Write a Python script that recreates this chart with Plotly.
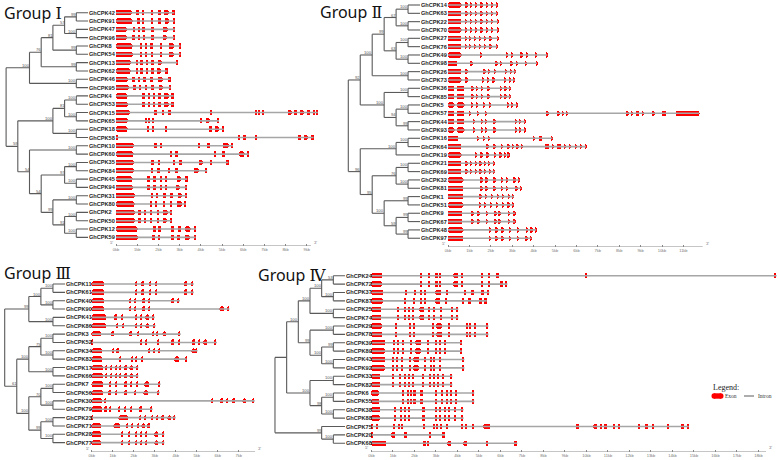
import plotly.graph_objects as go

# ---------------- DATA ----------------
G1_GENES = ["GhCPK42","GhCPK91","GhCPK47","GhCPK96","GhCPK8","GhCPK54","GhCPK13","GhCPK62","GhCPK46","GhCPK95",
            "GhCPK4","GhCPK53","GhCPK15","GhCPK65","GhCPK18","GhCPK58","GhCPK10","GhCPK60","GhCPK35","GhCPK84",
            "GhCPK45","GhCPK94","GhCPK31","GhCPK80","GhCPK2","GhCPK50","GhCPK12","GhCPK59"]
G1_TREE = ("((((((GhCPK42,GhCPK91)99,(GhCPK47,GhCPK96)100)57,(GhCPK8,GhCPK54)99)81,(GhCPK13,GhCPK62)99)76,"
           "(GhCPK46,GhCPK95)100)100,((((GhCPK4,GhCPK53)100,(GhCPK15,GhCPK65)100)81,(GhCPK18,GhCPK58)100)100,"
           "((GhCPK10,GhCPK60)100,(((GhCPK35,GhCPK84)100,(GhCPK45,GhCPK94)100)97,((GhCPK31,GhCPK80)100,"
           "((GhCPK2,GhCPK50)100,(GhCPK12,GhCPK59)100)91)99)54)54)59)")
G1_EXONS = [
 [(0,0.74),(0.95,1.07),(1.2,1.32),(1.62,1.72),(1.97,2.1),(2.25,2.48),(2.65,2.75)],
 [(0,0.78),(0.96,1.1),(1.2,1.32),(1.62,1.72),(1.98,2.1),(2.28,2.5),(2.68,2.76)],
 [(0,0.5),(0.78,0.9),(1.04,1.14),(1.23,1.35),(1.65,1.77),(2.2,2.42),(2.7,2.78)],
 [(0,0.5),(0.76,0.88),(1.02,1.12),(1.24,1.34),(1.66,1.76),(2.18,2.38),(2.68,2.76)],
 [(0,0.77),(1.1,1.22),(1.34,1.46),(1.6,1.72),(2.04,2.14),(2.48,2.72),(2.94,3.04)],
 [(0,0.77),(1.1,1.22),(1.34,1.46),(1.62,1.72),(2.04,2.14),(2.48,2.72),(2.94,3.04)],
 [(0,0.7),(0.92,1.04),(1.14,1.26),(1.38,1.5),(1.66,1.78),(1.95,2.15),(2.82,2.9)],
 [(0,0.7),(0.92,1.04),(1.14,1.26),(1.38,1.5),(1.66,1.78),(1.94,2.12),(2.3,2.42)],
 [(0,0.57),(0.76,0.88),(1.02,1.12),(1.28,1.38),(1.6,1.72),(1.98,2.18),(2.48,2.56)],
 [(0,0.6),(0.8,0.92),(1.06,1.16),(1.33,1.43),(1.65,1.77),(2.0,2.2),(2.5,2.58)],
 [(0,0.55),(1.22,1.36),(1.48,1.58),(1.74,1.84),(1.98,2.1),(2.26,2.48),(2.6,2.72)],
 [(0,0.55),(1.22,1.36),(1.48,1.6),(1.74,1.84),(1.98,2.1),(2.26,2.48),(2.6,2.72)],
 [(0,0.65),(1.78,1.92),(2.14,2.26),(2.46,2.56),(4.4,4.52),(6.52,6.64),(6.72,6.8),(6.9,6.98),(8.1,8.3),
  (8.4,8.52),(8.65,8.85),(8.98,9.14),(9.26,9.38),(9.45,9.52)],
 [(0,0.55),(1.34,1.46),(1.5,1.6),(1.68,1.78),(3.96,4.06),(4.22,4.42),(4.76,4.86)],
 [(0,0.55),(1.44,1.54),(1.68,1.78),(2.28,2.38),(4.38,4.52),(4.64,4.86),(4.98,5.08)],
 [(0,0.04),(5.72,5.84),(5.98,6.1),(6.56,6.64),(8.55,8.72),(8.85,9.05),(9.2,9.32)],
 [(0,0.85),(1.78,1.92),(2.04,2.16),(3.85,3.95),(4.26,4.4),(5.05,5.3),(5.42,5.52)],
 [(0,0.85),(2.52,2.64),(2.78,2.9),(4.6,4.7),(5.0,5.14),(5.8,6.05),(6.16,6.26)],
 [(0,0.85),(1.65,1.78),(1.96,2.08),(2.68,2.78),(2.98,3.1),(3.9,4.1),(4.46,4.52),(5.22,5.3)],
 [(0,0.82),(1.62,1.74),(1.92,2.04),(2.45,2.55),(2.78,2.9),(3.65,3.9),(4.22,4.3)],
 [(0,0.78),(1.46,1.58),(1.75,1.87),(2.05,2.15),(2.28,2.38),(2.84,3.04),(3.28,3.36)],
 [(0,0.78),(1.46,1.58),(1.75,1.87),(2.04,2.14),(2.28,2.38),(2.82,3.02),(3.26,3.34)],
 [(0,0.9),(1.62,1.74),(1.88,1.98),(2.22,2.34),(2.55,2.67),(2.92,3.12),(3.26,3.34)],
 [(0,0.9),(1.58,1.7),(1.84,1.94),(2.2,2.3),(2.52,2.64),(2.88,3.08),(3.22,3.3)],
 [(0,0.88),(1.04,1.16),(1.3,1.4),(1.6,1.7),(1.9,2.02),(2.2,2.42),(2.56,2.64)],
 [(0,0.88),(1.04,1.16),(1.3,1.4),(1.6,1.7),(1.9,2.02),(2.18,2.4),(2.54,2.62)],
 [(0,1.0),(1.72,1.86),(1.98,2.1),(2.6,2.72),(2.9,3.04),(3.25,3.5),(3.68,3.78)],
 [(0,1.0),(1.7,1.82),(1.96,2.08),(2.58,2.7),(2.86,3.0),(3.22,3.46),(3.66,3.76)],
]

G2_GENES = ["GhCPK14","GhCPK63","GhCPK22","GhCPK70","GhCPK27","GhCPK76","GhCPK49","GhCPK98","GhCPK26","GhCPK73",
            "GhCPK36","GhCPK85","GhCPK5","GhCPK57","GhCPK44","GhCPK93","GhCPK16","GhCPK64","GhCPK19","GhCPK21",
            "GhCPK69","GhCPK32","GhCPK81","GhCPK1","GhCPK51","GhCPK9","GhCPK67","GhCPK48","GhCPK97"]
G2_TREE = ("((((((GhCPK14,GhCPK63)100,(GhCPK22,GhCPK70)100)67,((GhCPK27,GhCPK76)100,(GhCPK49,GhCPK98)100)63)99,"
           "(GhCPK26,GhCPK73)100)100,((GhCPK36,GhCPK85)100,((GhCPK5,GhCPK57)100,(GhCPK44,GhCPK93)99)94)100)92,"
           "(((GhCPK16,GhCPK64)100,GhCPK19)100,(((GhCPK21,GhCPK69)100,(GhCPK32,GhCPK81)100)76,"
           "((GhCPK1,GhCPK51)99,((GhCPK9,GhCPK67)99,(GhCPK48,GhCPK97)99)59)100)95)96)")
G2_EXONS = [
 [(0,0.65),(0.78,0.9),(1.02,1.12),(1.26,1.36),(1.5,1.6),(1.74,1.84),(1.98,2.1),(2.24,2.3)],
 [(0,0.65),(0.78,0.9),(1.02,1.12),(1.26,1.36),(1.5,1.6),(1.74,1.84),(1.98,2.1),(2.24,2.3)],
 [(0,0.62),(0.76,0.86),(1.0,1.1),(1.24,1.34),(1.5,1.6),(1.74,1.84),(2.0,2.1),(2.28,2.34)],
 [(0,0.62),(0.76,0.86),(1.0,1.1),(1.24,1.34),(1.5,1.6),(1.74,1.84),(2.0,2.1),(2.28,2.34)],
 [(0,0.62),(0.76,0.86),(0.98,1.08),(1.2,1.3),(1.44,1.54),(1.7,1.78),(1.94,2.02),(2.28,2.34)],
 [(0,0.62),(0.76,0.86),(0.98,1.08),(1.2,1.3),(1.44,1.54),(1.7,1.78),(1.94,2.02),(2.24,2.3)],
 [(0,0.65),(1.48,1.58),(2.68,2.8),(2.92,3.02),(3.34,3.5),(3.62,3.72),(4.04,4.14),(4.58,4.64)],
 [(0,0.45),(1.0,1.15),(2.2,2.32),(2.42,2.52),(2.9,3.02),(3.16,3.26),(3.58,3.68),(4.1,4.16)],
 [(0,0.65),(0.8,0.92),(1.64,1.74),(1.86,1.96),(2.12,2.24),(2.66,2.74),(2.9,2.98),(3.1,3.16)],
 [(0,0.65),(0.8,0.92),(1.58,1.68),(1.8,1.9),(2.06,2.18),(2.6,2.7),(2.84,2.92),(3.06,3.12)],
 [(0,0.33),(0.42,0.76),(1.08,1.18),(1.3,1.4),(1.54,1.64),(1.82,1.94),(2.42,2.5),(2.64,2.72),(2.86,2.92)],
 [(0,0.33),(0.42,0.76),(1.08,1.18),(1.3,1.4),(1.54,1.64),(1.82,1.94),(2.42,2.5),(2.64,2.72),(2.86,2.92)],
 [(0,0.33),(0.42,0.76),(1.06,1.16),(1.3,1.4),(1.62,1.72),(1.88,1.98),(2.72,2.82),(2.96,3.04),(3.18,3.24)],
 [(0,0.33),(0.42,0.76),(0.98,1.08),(1.32,1.42),(1.7,1.8),(4.55,4.7),(5.1,5.2),(5.32,5.42),(5.52,5.6),
  (8.28,8.45),(8.54,8.62),(8.75,8.95),(9.06,9.12),(9.56,9.64),(10.0,10.2),(10.66,11.74)],
 [(0,0.3),(0.4,0.78),(1.16,1.26),(1.52,1.62),(1.72,1.82),(2.1,2.24),(3.1,3.2),(3.32,3.4),(3.54,3.6)],
 [(0,0.3),(0.4,0.78),(1.16,1.26),(1.52,1.62),(1.72,1.82),(2.1,2.24),(3.1,3.2),(3.32,3.4),(3.54,3.6)],
 [(0,0.52),(1.33,1.45),(1.6,1.7),(1.86,1.96),(3.94,4.06),(4.22,4.44),(4.8,4.88)],
 [(0,0.65),(1.78,1.9),(2.1,2.22),(2.46,2.56),(2.76,2.86),(2.98,3.06),(3.2,3.28),(3.4,3.48),(4.5,4.75),
  (4.82,4.94),(5.08,5.3),(5.4,5.52),(5.62,5.72),(5.9,6.02),(6.15,6.25),(6.4,6.45)],
 [(0,0.65),(1.24,1.36),(1.48,1.6),(1.78,1.9),(2.12,2.22),(2.38,2.5),(2.58,2.68),(2.78,2.86)],
 [(0,0.65),(0.8,0.9),(1.0,1.1),(1.23,1.33),(1.45,1.55),(1.65,1.75),(1.88,1.96),(2.1,2.16)],
 [(0,0.65),(0.8,0.9),(1.02,1.12),(1.25,1.35),(1.45,1.55),(1.67,1.77),(1.9,1.98),(2.12,2.18)],
 [(0,0.72),(1.48,1.6),(1.72,1.84),(2.1,2.22),(2.44,2.56),(2.68,2.78),(3.04,3.16),(3.28,3.34)],
 [(0,0.72),(1.48,1.6),(1.72,1.84),(2.1,2.22),(2.44,2.56),(2.68,2.78),(3.12,3.24),(3.36,3.42)],
 [(0,0.72),(1.44,1.56),(1.7,1.82),(2.0,2.1),(2.26,2.36),(2.52,2.62),(2.78,2.88),(3.0,3.08)],
 [(0,0.72),(1.42,1.54),(1.68,1.78),(1.94,2.04),(2.22,2.34),(2.5,2.6),(2.78,2.86),(2.98,3.06)],
 [(0,0.68),(1.06,1.18),(1.34,1.46),(1.74,1.84),(2.14,2.26),(2.34,2.46),(2.78,2.88),(3.06,3.14)],
 [(0,0.68),(1.06,1.18),(1.34,1.46),(1.74,1.84),(2.14,2.26),(2.34,2.46),(2.78,2.88),(3.06,3.14)],
 [(0,0.72),(1.88,2.0),(2.18,2.32),(2.48,2.58),(2.82,2.92),(3.22,3.32),(3.62,3.72),(3.86,3.94),(4.06,4.12)],
 [(0,0.72),(1.88,2.0),(2.18,2.32),(2.48,2.58),(2.82,2.92),(3.22,3.32),(3.6,3.7),(3.82,3.9)],
]

G3_GENES = ["GhCPK11","GhCPK61","GhCPK40","GhCPK90","GhCPK41","GhCPK86","GhCPK3","GhCPK52","GhCPK34","GhCPK83",
            "GhCPK17","GhCPK66","GhCPK7","GhCPK56","GhCPK30","GhCPK79","GhCPK23","GhCPK71","GhCPK28","GhCPK77"]
G3_TREE = ("((((GhCPK11,GhCPK61)100,(GhCPK40,GhCPK90)100)100,(GhCPK41,GhCPK86)100)99,"
           "((((GhCPK3,GhCPK52)100,(GhCPK34,GhCPK83)100)75,(GhCPK17,GhCPK66)100)100,"
           "(((GhCPK7,GhCPK56)100,(GhCPK30,GhCPK79)100)70,((GhCPK23,GhCPK71)100,(GhCPK28,GhCPK77)100)99)100)61)")
G3_EXONS = [
 [(0,0.62),(2.1,2.2),(2.38,2.5),(2.78,2.86),(3.02,3.12),(4.4,4.58),(4.74,4.86)],
 [(0,0.62),(2.1,2.2),(2.38,2.5),(2.78,2.86),(3.02,3.12),(4.4,4.58),(4.74,4.86)],
 [(0,0.62),(1.78,1.88),(2.04,2.14),(2.46,2.54),(2.68,2.78),(3.78,3.96),(4.1,4.2)],
 [(0,0.62),(1.78,1.88),(2.04,2.14),(2.46,2.54),(2.68,2.78),(6.1,6.3),(6.46,6.56)],
 [(0,0.68),(1.1,1.22),(1.4,1.5),(2.06,2.16),(2.3,2.42),(2.58,2.74),(2.9,3.0)],
 [(0,0.68),(1.16,1.28),(1.46,1.56),(2.06,2.16),(2.3,2.42),(2.58,2.76),(2.94,3.04)],
 [(0,0.48),(0.96,1.06),(1.82,1.92),(2.18,2.28),(2.88,2.98),(3.06,3.2),(3.36,3.56),(4.14,4.24)],
 [(0,0.04),(2.34,2.42),(2.58,2.66),(3.14,3.22),(3.8,3.92),(4.14,4.24),(4.82,4.92),(5.06,5.2),(5.34,5.52),(5.88,5.96)],
 [(0,0.5),(0.98,1.1),(1.18,1.3),(2.68,2.78),(2.92,3.02),(3.16,3.28),(4.74,4.94),(4.98,5.04)],
 [(0,0.5),(1.3,1.4),(1.9,2.0),(2.06,2.16),(2.36,2.46),(3.96,4.16),(4.48,4.52)],
 [(0,0.58),(0.64,0.74),(0.88,0.98),(1.12,1.22),(1.36,1.44),(1.6,1.68),(1.8,1.98),(2.14,2.22)],
 [(0,0.58),(0.64,0.74),(0.88,0.98),(1.12,1.22),(1.36,1.44),(1.6,1.68),(1.8,1.98),(2.14,2.22)],
 [(0,0.58),(0.86,0.96),(1.14,1.24),(1.56,1.68),(1.86,1.96),(2.12,2.22),(2.5,2.74),(3.18,3.28)],
 [(0,0.58),(0.82,0.92),(1.14,1.24),(1.56,1.68),(2.02,2.12),(2.48,2.68),(3.14,3.24)],
 [(0,0.5),(0.62,0.7),(5.68,5.8),(6.12,6.26),(6.42,6.52),(6.7,6.84),(7.16,7.38),(7.66,7.76)],
 [(0,0.5),(0.63,0.73),(0.86,0.96),(1.26,1.36),(1.54,1.64),(1.86,1.96),(2.26,2.44),(2.82,2.9)],
 [(0,0.04),(1.28,1.74),(2.28,2.38),(2.52,2.62),(2.86,2.96),(3.1,3.2),(3.34,3.48),(3.62,3.8),(3.92,4.0)],
 [(0,0.48),(1.02,1.38),(1.64,1.74),(1.88,1.98),(2.16,2.26),(2.38,2.56),(2.7,2.78)],
 [(0,0.48),(1.42,1.52),(1.76,1.86),(2.08,2.18),(2.32,2.42),(2.56,2.66),(3.0,3.2),(3.36,3.46)],
 [(0,0.48),(1.42,1.52),(1.76,1.86),(2.08,2.18),(2.32,2.42),(2.56,2.66),(3.0,3.2),(3.36,3.46)],
]

G4_GENES = ["GhCPK24","GhCPK72","GhCPK37","GhCPK87","GhCPK25","GhCPK74","GhCPK29","GhCPK78","GhCPK39","GhCPK89",
            "GhCPK43","GhCPK92","GhCPK33","GhCPK82","GhCPK6","GhCPK55","GhCPK38","GhCPK88","GhCPK75","GhCPK20","GhCPK68"]
G4_TREE = ("((((((GhCPK24,GhCPK72)53,(GhCPK37,GhCPK87)100)100,(GhCPK25,GhCPK74)100)100,"
           "((GhCPK29,GhCPK78)100,((GhCPK39,GhCPK89)99,(GhCPK43,GhCPK92)100)100)99)100,"
           "((GhCPK33,GhCPK82)100,((GhCPK6,GhCPK55)100,(GhCPK38,GhCPK88)100)98)100),"
           "(GhCPK75,(GhCPK20,GhCPK68)100)99)")
G4_EXONS = [
 [(0,0.5),(2.24,2.34),(2.66,2.72),(2.98,3.08),(3.18,3.26),(3.78,4.05),(4.2,4.28),(5.12,5.18),(5.44,5.52),(5.8,5.95),(9.94,10.02),(18.72,18.84)],
 [(0,0.5),(2.24,2.34),(2.66,2.72),(2.98,3.08),(3.18,3.26),(3.78,4.05),(4.2,4.28),(5.12,5.18),(5.44,5.52),(5.98,6.12),(6.24,6.32)],
 [(0,0.55),(1.6,1.68),(2.0,2.04),(2.3,2.36),(2.49,2.55),(2.98,3.23),(3.5,3.56),(4.35,4.41),(4.67,4.75),(5.1,5.24),(5.4,5.48)],
 [(0,0.55),(1.55,1.63),(1.96,2.0),(2.27,2.33),(2.46,2.52),(2.95,3.19),(3.44,3.5),(4.24,4.3),(4.54,4.62),(5.02,5.14),(5.28,5.36)],
 [(0,0.47),(1.22,1.28),(1.54,1.6),(1.72,1.78),(1.92,1.98),(2.22,2.44),(2.64,2.7),(2.89,2.95),(3.23,3.29),(3.7,3.8),(3.97,4.04)],
 [(0,0.47),(1.22,1.28),(1.54,1.6),(1.72,1.78),(1.92,1.98),(2.22,2.44),(2.64,2.7),(2.89,2.95),(3.23,3.29),(3.7,3.8),(3.97,4.04)],
 [(0,0.5),(1.1,1.18),(1.76,1.82),(1.95,2.01),(2.86,2.9),(3.0,3.3),(3.59,3.65),(4.43,4.49),(4.55,4.61),(4.78,4.88),(5.34,5.44)],
 [(0,0.5),(1.1,1.18),(1.76,1.82),(1.95,2.01),(2.86,2.9),(3.0,3.3),(3.59,3.65),(4.43,4.49),(4.55,4.61),(4.78,4.88),(5.34,5.44)],
 [(0,0.62),(1.02,1.08),(1.23,1.29),(1.45,1.51),(1.83,1.91),(2.02,2.3),(2.62,2.7),(3.0,3.06),(3.16,3.22),(3.38,3.46),(4.14,4.2)],
 [(0,0.62),(1.02,1.08),(1.23,1.29),(1.45,1.51),(1.83,1.91),(2.02,2.3),(2.62,2.7),(3.0,3.06),(3.16,3.22),(3.38,3.46),(4.14,4.2)],
 [(0,0.62),(0.99,1.05),(1.19,1.25),(1.42,1.48),(1.78,1.86),(1.95,2.22),(2.46,2.52),(2.77,2.83),(2.91,2.97),(3.14,3.24),(4.26,4.32)],
 [(0,0.62),(0.99,1.05),(1.19,1.25),(1.42,1.48),(1.78,1.86),(1.95,2.22),(2.46,2.52),(2.77,2.83),(2.91,2.97),(3.14,3.24),(4.26,4.32)],
 [(0,0.39),(0.99,1.05),(1.33,1.39),(1.53,1.59),(1.72,1.8),(1.9,1.96),(2.38,2.44),(2.69,2.75),(2.91,2.97),(3.08,3.14),(3.29,3.39),(3.68,3.76)],
 [(0,0.39),(0.99,1.05),(1.33,1.39),(1.53,1.59),(1.72,1.8),(1.9,1.96),(2.38,2.44),(2.69,2.75),(2.91,2.97),(3.08,3.14),(3.29,3.39),(3.68,3.76)],
 [(0,0.36),(1.45,1.51),(1.67,1.73),(1.84,1.9),(1.98,2.06),(2.28,2.38),(3.0,3.06),(3.25,3.31),(3.5,3.56),(3.66,3.74),(3.88,3.98),(4.68,4.78)],
 [(0,0.36),(1.45,1.51),(1.67,1.73),(1.84,1.9),(1.98,2.06),(2.28,2.38),(3.0,3.06),(3.25,3.31),(3.5,3.56),(3.66,3.74),(3.88,3.98),(4.68,4.78)],
 [(0,0.39),(1.06,1.12),(1.34,1.4),(1.53,1.59),(1.73,1.79),(2.4,2.48),(2.97,3.03),(3.16,3.22),(3.39,3.45),(3.58,3.66),(3.82,3.92),(4.2,4.28)],
 [(0,0.39),(1.06,1.12),(1.34,1.4),(1.53,1.59),(1.73,1.79),(2.4,2.48),(2.97,3.03),(3.16,3.22),(3.39,3.45),(3.58,3.66),(3.82,3.92),(4.2,4.28)],
 [(0,0.08),(0.22,0.3),(1.03,1.08),(1.26,1.32),(1.42,1.48),(2.42,2.47),(2.9,2.95),(3.04,3.09),(3.2,3.25),(3.5,3.58),(4.2,4.28),
  (4.36,4.44),(4.7,4.78),(5.18,5.52),(9.52,9.66),(10.3,10.5),(10.66,10.74),(10.86,10.94),(11.28,11.34),(11.48,11.54),
  (12.42,12.5),(12.74,12.86),(13.08,13.14),(13.74,13.86),(14.42,14.52),(14.66,14.76)],
 [(0,0.06),(0.93,1.1),(1.52,1.68),(2.7,2.74),(3.33,3.42)],
 [(0,0.7),(2.44,2.52),(2.6,2.68),(3.52,3.72),(4.24,4.44),(5.36,5.42),(6.62,6.78)],
]

GROUP_NUMERALS = ["\u2160", "\u2161", "\u2162", "\u2163"]
AXIS_END_KB = [9.2, 11.9, 7.78, 18.35]
TICK_MAX_KB = [9, 11, 7, 18]

# ---------------- STYLE (pixel layout) ----------------
W, H = 778, 460
STYLE = [
    dict(row0=12.7, pitch=8.32, axis_px=246, gx0=116.0, ppk=21.2, leaf_px=88.0, step=11.7, title=(2, 13)),
    dict(row0=5.0, pitch=8.33, axis_px=247, gx0=448.0, ppk=21.4, leaf_px=420.0, step=11.95, title=(318, 12)),
    dict(row0=284.0, pitch=8.35, axis_px=451.5, gx0=91.7, ppk=21.0, leaf_px=65.0, step=12.06, title=(2, 273)),
    dict(row0=275.7, pitch=8.38, axis_px=451.5, gx0=371.5, ppk=21.5, leaf_px=345.0, step=11.67, title=(256, 275)),
]
EXON_RED = "#ff0000"
INTRON_GREY = "#a6a6a6"
TREE_GREY = "#5a5a5a"
SANS = "Liberation Sans"
SERIF = "Liberation Serif"
TITLE_FONT = "Noto Sans, DejaVu Sans"


def parse_newick(s):
    pos = 0

    def node():
        nonlocal pos
        if s[pos] == "(":
            pos += 1
            ch = [node()]
            while s[pos] == ",":
                pos += 1
                ch.append(node())
            pos += 1  # ')'
            lab = ""
            while pos < len(s) and s[pos] not in ",)":
                lab += s[pos]
                pos += 1
            return {"children": ch, "label": lab}
        name = ""
        while pos < len(s) and s[pos] not in ",)":
            name += s[pos]
            pos += 1
        return {"name": name}

    return node()


def place(n, rows):
    if "name" in n:
        n["h"] = 0
        n["y"] = rows[n["name"]]
        return
    for c in n["children"]:
        place(c, rows)
    n["h"] = 1 + max(c["h"] for c in n["children"])
    ys = [c["y"] for c in n["children"]]
    n["y"] = (min(ys) + max(ys)) / 2.0


def walk(n, root, segx, segy, labs):
    if "name" in n:
        return
    ys = [c["y"] for c in n["children"]]
    segx += [n["h"], n["h"], None]
    segy += [min(ys), max(ys), None]
    for c in n["children"]:
        segx += [n["h"], c["h"], None]
        segy += [c["y"], c["y"], None]
        walk(c, root, segx, segy, labs)
    if n.get("label") and n is not root:
        labs.append((n["h"], n["y"], n["label"]))


fig = go.Figure()
layout_axes = {}
annotations = []

groups = [(G1_GENES, G1_TREE, G1_EXONS), (G2_GENES, G2_TREE, G2_EXONS),
          (G3_GENES, G3_TREE, G3_EXONS), (G4_GENES, G4_TREE, G4_EXONS)]

for g, (genes, tree, exons) in enumerate(groups):
    st = STYLE[g]
    n = len(genes)
    rows = {name: i for i, name in enumerate(genes)}
    root = parse_newick(tree)
    place(root, rows)

    yid = "" if g == 0 else str(g + 1)
    xt = 2 * g + 1
    xg = 2 * g + 2
    xt_id = "" if xt == 1 else str(xt)
    xg_id = str(xg)
    ty_ref = "y" + yid
    tx_ref = "x" + xt_id
    gx_ref = "x" + xg_id

    axis_row = (st["axis_px"] - st["row0"]) / st["pitch"]
    top_px = max(0.0, st["row0"] - 0.8 * st["pitch"])
    top_row = (top_px - st["row0"]) / st["pitch"]
    layout_axes["yaxis" + yid] = dict(
        domain=[1 - st["axis_px"] / H, 1 - top_px / H], range=[axis_row, top_row],
        anchor=tx_ref, visible=False, fixedrange=True)

    hspan = root["h"] + 0.2
    left_px = st["leaf_px"] - hspan * st["step"]
    layout_axes["xaxis" + xt_id] = dict(
        domain=[left_px / W, st["leaf_px"] / W], range=[hspan, 0], anchor=ty_ref,
        visible=False, fixedrange=True)

    gene_end = max(e[-1][1] for e in exons)
    rmax = min(max(gene_end, AXIS_END_KB[g]) + 0.3, (W - st["gx0"]) / st["ppk"])
    rmin = -0.25
    layout_axes["xaxis" + xg_id] = dict(
        domain=[(st["gx0"] + rmin * st["ppk"]) / W, (st["gx0"] + rmax * st["ppk"]) / W],
        range=[rmin, rmax], anchor=ty_ref, showgrid=False, zeroline=False, showline=False,
        tickvals=list(range(0, TICK_MAX_KB[g] + 1)),
        ticktext=[f"{k}kb" for k in range(0, TICK_MAX_KB[g] + 1)],
        ticks="inside", ticklen=2, tickwidth=0.8, tickcolor="#888888",
        tickfont=dict(size=4, color="#777777", family=SANS), fixedrange=True)

    # tree
    segx, segy, labs = [], [], []
    walk(root, root, segx, segy, labs)
    fig.add_trace(go.Scatter(x=segx, y=segy, mode="lines", xaxis=tx_ref, yaxis=ty_ref,
                             line=dict(color=TREE_GREY, width=1.1), hoverinfo="skip", showlegend=False))
    for hx, hy, lab in labs:
        annotations.append(dict(x=hx, y=hy, xref=tx_ref, yref=ty_ref, text=lab, showarrow=False,
                                xanchor="right", yanchor="bottom", borderpad=0, xshift=1, yshift=-1,
                                font=dict(size=4.2, color="#555555", family=SANS)))
    for i, name in enumerate(genes):
        annotations.append(dict(x=0, y=i, xref=tx_ref, yref=ty_ref, text="<b>%s</b>" % name, showarrow=False,
                                xanchor="left", yanchor="middle", borderpad=0,
                                font=dict(size=5.6, color="#222222", family=SANS)))

    # introns
    ix, iy = [], []
    for i, e in enumerate(exons):
        ix += [0, e[-1][1], None]
        iy += [i, i, None]
    fig.add_trace(go.Scatter(x=ix, y=iy, mode="lines", xaxis=gx_ref, yaxis=ty_ref,
                             line=dict(color=INTRON_GREY, width=1.6), hoverinfo="skip", showlegend=False))
    # genomic scale line
    fig.add_trace(go.Scatter(x=[0, AXIS_END_KB[g]], y=[axis_row, axis_row], mode="lines",
                             xaxis=gx_ref, yaxis=ty_ref, cliponaxis=False,
                             line=dict(color="#8c8c8c", width=1.2), hoverinfo="skip", showlegend=False))
    # exons
    bx, bb, by = [], [], []
    for i, e in enumerate(exons):
        for s0, s1 in e:
            bx.append(s1 - s0)
            bb.append(s0)
            by.append(i)
    fig.add_trace(go.Bar(x=bx, base=bb, y=by, orientation="h", width=0.64,
                         xaxis=gx_ref, yaxis=ty_ref,
                         marker=dict(color=EXON_RED, line=dict(width=0), cornerradius="50%"),
                         hoverinfo="skip", showlegend=False))
    # 5' / 3'
    annotations.append(dict(x=0, y=axis_row, xref=gx_ref, yref=ty_ref, text="5'", showarrow=False,
                            xanchor="right", yanchor="bottom", borderpad=0, xshift=-2, yshift=0,
                            font=dict(size=4.5, color="#555555", family=SERIF)))
    annotations.append(dict(x=AXIS_END_KB[g], y=axis_row, xref=gx_ref, yref=ty_ref, text="3'",
                            showarrow=False, xanchor="left", yanchor="bottom", borderpad=0, xshift=2,
                            font=dict(size=4.5, color="#555555", family=SERIF)))

    tx, ty = st["title"]
    title_text = "Group <span style='font-family:DejaVu Serif'>%s</span>" % GROUP_NUMERALS[g]
    annotations.append(dict(x=tx / W, y=1 - ty / H, xref="paper", yref="paper", text=title_text,
                            showarrow=False, xanchor="left", yanchor="middle",
                            font=dict(size=16, color="#111111", family=TITLE_FONT)))

# legend
annotations += [
    dict(x=711 / W, y=1 - 387 / H, xref="paper", yref="paper", text="Legend:", showarrow=False,
         xanchor="left", yanchor="middle", font=dict(size=8, family=SERIF, color="#222222")),
    dict(x=723 / W, y=1 - 396 / H, xref="paper", yref="paper", text="Exon", showarrow=False,
         xanchor="left", yanchor="middle", font=dict(size=5.5, family=SERIF, color="#333333")),
    dict(x=756 / W, y=1 - 396 / H, xref="paper", yref="paper", text="Intron", showarrow=False,
         xanchor="left", yanchor="middle", font=dict(size=5.5, family=SERIF, color="#333333")),
]
shapes = [
    dict(type="rect", xref="paper", yref="paper", x0=714 / W, x1=721 / W, y0=1 - 398.7 / H, y1=1 - 393.3 / H,
         fillcolor=EXON_RED, line=dict(width=0)),
    dict(type="circle", xref="paper", yref="paper", x0=711.5 / W, x1=716.5 / W, y0=1 - 398.7 / H, y1=1 - 393.3 / H,
         fillcolor=EXON_RED, line=dict(width=0)),
    dict(type="circle", xref="paper", yref="paper", x0=718.5 / W, x1=723.5 / W, y0=1 - 398.7 / H, y1=1 - 393.3 / H,
         fillcolor=EXON_RED, line=dict(width=0)),
    dict(type="line", xref="paper", yref="paper", x0=744 / W, x1=754 / W, y0=1 - 396 / H, y1=1 - 396 / H,
         line=dict(color="#777777", width=1.2)),
]

fig.update_layout(width=W, height=H, margin=dict(l=0, r=0, t=0, b=0), paper_bgcolor="white",
                  plot_bgcolor="rgba(0,0,0,0)", barmode="overlay", bargap=0, showlegend=False,
                  annotations=annotations, shapes=shapes, **layout_axes)
fig.write_html("out.html", config={"displayModeBar": False},
               post_script="document.body.style.margin='0px';document.body.style.padding='0px';")
